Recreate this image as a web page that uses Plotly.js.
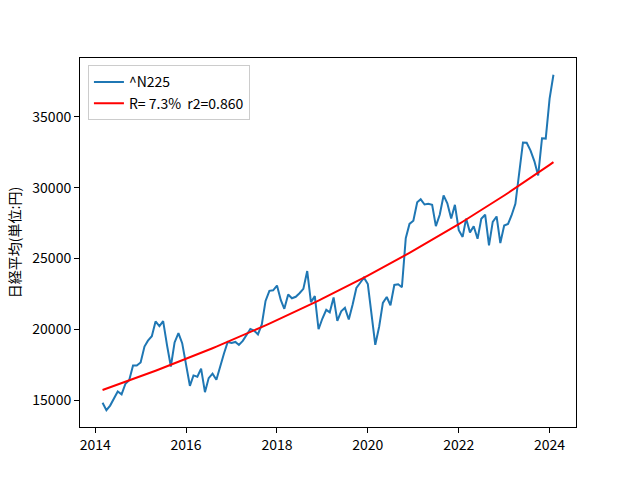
<!DOCTYPE html>
<html>
<head>
<meta charset="utf-8">
<script src="https://cdn.plot.ly/plotly-3.0.1.min.js"></script>
<style>html,body{margin:0;padding:0;background:#fff;}#chart{width:640px;height:480px;}</style>
</head>
<body>
<div id="chart"></div>
<script>
// Monthly close of ^N225, starting 2014-03
const startYear = 2014, startMonth = 3;
const closes = [
  14828, 14304, 14632, 15162, 15621, 15425, 16174, 16414, 17460, 17451,
  17674, 18798, 19207, 19520, 20563, 20236, 20585, 18890, 17388, 19083, 19747, 19034,
  17518, 16027, 16759, 16666, 17235, 15576, 16569, 16887, 16450, 17425, 18308, 19114,
  19041, 19119, 18909, 19197, 19651, 20033, 19925, 19646, 20356, 22012, 22725, 22765,
  23098, 22068, 21454, 22468, 22202, 22305, 22554, 22865, 24120, 21920, 22351, 20015,
  20773, 21385, 21206, 22259, 20601, 21276, 21522, 20704, 21756, 22927, 23294, 23657,
  23205, 21143, 18917, 20194, 21878, 22288, 21710, 23140, 23185, 22977, 26434, 27444,
  27663, 28966, 29179, 28813, 28860, 28792, 27284, 28090, 29453, 28893, 27822, 28792,
  27002, 26527, 27821, 26848, 27280, 26393, 27802, 28092, 25937, 27587, 27969, 26095,
  27327, 27446, 28041, 28856, 30888, 33189, 33172, 32619, 31858, 30859, 33487, 33464,
  36287, 37963
];
const seriesName = "^N225";
const fitLabel = "R=\u00a07.3%\u00a0\u00a0r2=0.860";
const yTitle = "日経平均(単位:円)";
const yTicks = [15000, 20000, 25000, 30000, 35000];
const xTickYears = [2014, 2016, 2018, 2020, 2022, 2024];

// dates
const dates = closes.map((_, i) => {
  const m0 = startMonth - 1 + i;
  const y = startYear + Math.floor(m0 / 12);
  const m = (m0 % 12) + 1;
  return y + "-" + String(m).padStart(2, "0") + "-01";
});
const ms = dates.map(d => new Date(d + "T00:00:00Z").getTime());
const yearFrac = ms.map(t => t / (365.25 * 864e5));

// exponential fit (log-linear least squares)
const n = closes.length;
const lx = yearFrac, ly = closes.map(Math.log);
const mx = lx.reduce((a, b) => a + b, 0) / n, my = ly.reduce((a, b) => a + b, 0) / n;
let sxy = 0, sxx = 0;
for (let i = 0; i < n; i++) { sxy += (lx[i] - mx) * (ly[i] - my); sxx += (lx[i] - mx) ** 2; }
const b = sxy / sxx, a = my - b * mx;
const fit = lx.map(t => Math.exp(a + b * t));

// ranges with 5% padding (matplotlib default)
const xmin = ms[0], xmax = ms[n - 1], xpad = (xmax - xmin) * 0.05;
const ymin = Math.min(...closes, ...fit), ymax = Math.max(...closes, ...fit), ypad = (ymax - ymin) * 0.05;

const font = "Noto Sans CJK JP, DejaVu Sans, sans-serif";
const fs = 14;
const traces = [
  { x: dates, y: closes, type: "scatter", mode: "lines", name: seriesName,
    line: { color: "#1f77b4", width: 2 } },
  { x: dates, y: fit, type: "scatter", mode: "lines", name: fitLabel,
    line: { color: "#ff0000", width: 2 } }
];
const layout = {
  width: 640, height: 480,
  margin: { l: 80, r: 64, t: 57.6, b: 52.8 },
  paper_bgcolor: "#fff", plot_bgcolor: "#fff",
  font: { family: font, size: fs, color: "#000" },
  showlegend: true,
  legend: { x: 0.016, y: 0.98, xanchor: "left", yanchor: "top",
    bordercolor: "#cccccc", borderwidth: 1, bgcolor: "rgba(255,255,255,0.8)",
    font: { family: font, size: fs, color: "#000" }, tracegroupgap: 0 },
  xaxis: {
    type: "date",
    range: [new Date(xmin - xpad).toISOString(), new Date(xmax + xpad).toISOString()],
    tickvals: xTickYears.map(y => y + "-01-01"),
    ticktext: xTickYears.map(String),
    showgrid: false, zeroline: false,
    showline: true, linecolor: "#000", linewidth: 1, mirror: true,
    ticks: "outside", ticklen: 5, tickcolor: "#000",
    tickfont: { family: font, size: fs, color: "#000" }
  },
  yaxis: {
    range: [ymin - ypad, ymax + ypad],
    tickvals: yTicks, ticktext: yTicks.map(String),
    showgrid: false, zeroline: false,
    showline: true, linecolor: "#000", linewidth: 1, mirror: true,
    ticks: "outside", ticklen: 5, tickcolor: "#000",
    tickfont: { family: font, size: fs, color: "#000" },
    title: { text: yTitle, font: { family: font, size: fs, color: "#000" }, standoff: 8 }
  }
};
Plotly.newPlot("chart", traces, layout, { displayModeBar: false, staticPlot: true });
</script>
</body>
</html>
